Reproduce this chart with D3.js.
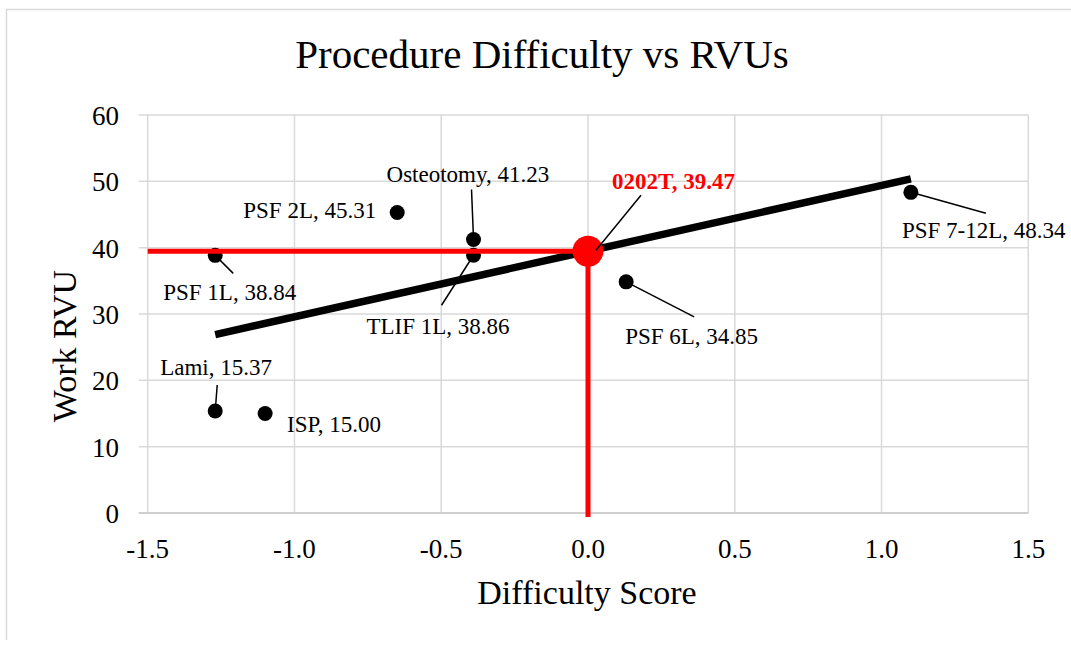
<!DOCTYPE html>
<html>
<head>
<meta charset="utf-8">
<script src="https://cdn.jsdelivr.net/npm/d3@7"></script>
<style>
  body { margin: 0; background: #fff; }
  text { font-family: "Liberation Serif", "Times New Roman", serif; fill: #000; }
</style>
</head>
<body>
<svg width="1071" height="646"></svg>
<script>

// procedures
var names = ["PSF 1L", "Lami", "ISP", "PSF 2L", "Osteotomy", "TLIF 1L", "PSF 6L", "PSF 7-12L"],
  difficulty = [-1.27, -1.27, -1.10, -0.65, -0.39, -0.39, 0.13, 1.10],
  workRVU = [38.84, 15.37, 15.00, 45.31, 41.23, 38.86, 34.85, 48.34];

// the new code, placed on the trend line
var newName = "0202T",
  newDifficulty = 0.0,
  newRVU = 39.47;

var xTicks = [-1.5, -1.0, -0.5, 0.0, 0.5, 1.0, 1.5],
  yTicks = [0, 10, 20, 30, 40, 50, 60];

// label placement, pixels from the point (text start + leader end)
var labelPos = [
  {dx: -52, dy: 45, anchor: "start", lx: 18, ly: 18},
  {dx: -55, dy: -36, anchor: "start", lx: 2, ly: -26},
  {dx: 22, dy: 18, anchor: "start", lx: null},
  {dx: -21, dy: 6, anchor: "end", lx: null},
  {dx: -87, dy: -58, anchor: "start", lx: -2, ly: -50},
  {dx: -107, dy: 79, anchor: "start", lx: -32, ly: 50},
  {dx: -1, dy: 62, anchor: "start", lx: 68, ly: 35},
  {dx: -9, dy: 46, anchor: "start", lx: 75, ly: 21}
];

var svg = d3.select("svg"),
  x = d3.scaleLinear().domain([-1.5, 1.5]).range([147.7, 1028.3]),
  y = d3.scaleLinear().domain([0, 60]).range([513, 115]);

var grid = "#d9d9d9";

// plain hyphen minus like the original
function fmt1(d) { return d3.format(".1f")(d).replace("\u2212", "-"); }

// outer frame (left + top edges only visible)
svg.append("line").attr("x1", 6.5).attr("x2", 6.5).attr("y1", 9).attr("y2", 640)
  .attr("stroke", grid).attr("stroke-width", 1.5);
svg.append("line").attr("x1", 6).attr("x2", 1071).attr("y1", 9.5).attr("y2", 9.5)
  .attr("stroke", grid).attr("stroke-width", 1.5);

// title
svg.append("text")
  .attr("x", 542).attr("y", 68)
  .attr("text-anchor", "middle")
  .style("font-size", "41px")
  .text("Procedure Difficulty vs RVUs");

// gridlines
var g = svg.append("g");
g.selectAll(".vgrid").data(xTicks).enter().append("line")
  .attr("x1", function(d) { return x(d); })
  .attr("x2", function(d) { return x(d); })
  .attr("y1", y(60)).attr("y2", y(0))
  .attr("stroke", grid).attr("stroke-width", 1.5);

g.selectAll(".hgrid").data(yTicks).enter().append("line")
  .attr("x1", x(-1.5) - 9).attr("x2", x(1.5))
  .attr("y1", function(d) { return y(d); })
  .attr("y2", function(d) { return y(d); })
  .attr("stroke", function(d) { return d == 0 ? "#cfcfcf" : grid; })
  .attr("stroke-width", function(d) { return d == 0 ? 2 : 1.5; });

// tick labels
g.selectAll(".xt").data(xTicks).enter().append("text")
  .attr("x", function(d) { return x(d); })
  .attr("y", 558)
  .attr("text-anchor", "middle")
  .style("font-size", "27px")
  .text(fmt1);

g.selectAll(".yt").data(yTicks).enter().append("text")
  .attr("x", 119)
  .attr("y", function(d) { return y(d) + 10; })
  .attr("text-anchor", "end")
  .style("font-size", "27px")
  .text(function(d) { return d; });

// axis titles
svg.append("text")
  .attr("x", 587).attr("y", 604)
  .attr("text-anchor", "middle")
  .style("font-size", "34px")
  .text("Difficulty Score");

svg.append("text")
  .attr("transform", "translate(76,346) rotate(-90)")
  .attr("text-anchor", "middle")
  .style("font-size", "34px")
  .text("Work RVU");

// least squares trend line over the procedures
var mx = d3.mean(difficulty), my = d3.mean(workRVU), sxy = 0, sxx = 0;
for (var i = 0; i < difficulty.length; i++) {
  sxy += (difficulty[i] - mx) * (workRVU[i] - my);
  sxx += (difficulty[i] - mx) * (difficulty[i] - mx);
}
var slope = sxy / sxx, icpt = my - slope * mx,
  xExt = d3.extent(difficulty);

svg.append("line")
  .attr("x1", x(xExt[0])).attr("y1", y(icpt + slope * xExt[0]))
  .attr("x2", x(xExt[1])).attr("y2", y(icpt + slope * xExt[1]))
  .attr("stroke", "#000").attr("stroke-width", 7.5);

// points
var pts = names.map(function(n, i) {
  return {name: n, x: difficulty[i], y: workRVU[i], pos: labelPos[i]};
});

svg.append("g").selectAll("circle").data(pts).enter().append("circle")
  .attr("cx", function(d) { return x(d.x); })
  .attr("cy", function(d) { return y(d.y); })
  .attr("r", 7.5)
  .attr("fill", "#000");

// red guide lines to the axes
svg.append("line")
  .attr("x1", x(-1.5)).attr("x2", x(newDifficulty))
  .attr("y1", y(newRVU)).attr("y2", y(newRVU))
  .attr("stroke", "#ff0000").attr("stroke-width", 5);
svg.append("line")
  .attr("x1", x(newDifficulty)).attr("x2", x(newDifficulty))
  .attr("y1", y(newRVU)).attr("y2", y(0) + 4)
  .attr("stroke", "#ff0000").attr("stroke-width", 5);

svg.append("circle")
  .attr("cx", x(newDifficulty)).attr("cy", y(newRVU))
  .attr("r", 15.5).attr("fill", "#ff0000");

// leader lines
svg.append("g").selectAll("line").data(pts.filter(function(d) { return d.pos.lx != null; }))
  .enter().append("line")
  .attr("x1", function(d) { return x(d.x); })
  .attr("y1", function(d) { return y(d.y); })
  .attr("x2", function(d) { return x(d.x) + d.pos.lx; })
  .attr("y2", function(d) { return y(d.y) + d.pos.ly; })
  .attr("stroke", "#000").attr("stroke-width", 1.5);

svg.append("line")
  .attr("x1", x(newDifficulty) + 8).attr("y1", y(newRVU) - 1)
  .attr("x2", x(newDifficulty) + 53).attr("y2", y(newRVU) - 56)
  .attr("stroke", "#000").attr("stroke-width", 1.5);

// data labels
svg.append("g").selectAll("text").data(pts).enter().append("text")
  .attr("x", function(d) { return x(d.x) + d.pos.dx; })
  .attr("y", function(d) { return y(d.y) + d.pos.dy; })
  .attr("text-anchor", function(d) { return d.pos.anchor; })
  .style("font-size", "23px")
  .text(function(d) { return d.name + ", " + d3.format(".2f")(d.y); });

svg.append("text")
  .attr("x", x(newDifficulty) + 24).attr("y", y(newRVU) - 62)
  .style("font-size", "23px")
  .style("font-weight", "bold")
  .style("fill", "#ff0000")
  .text(newName + ", " + d3.format(".2f")(newRVU));

</script>
</body>
</html>
